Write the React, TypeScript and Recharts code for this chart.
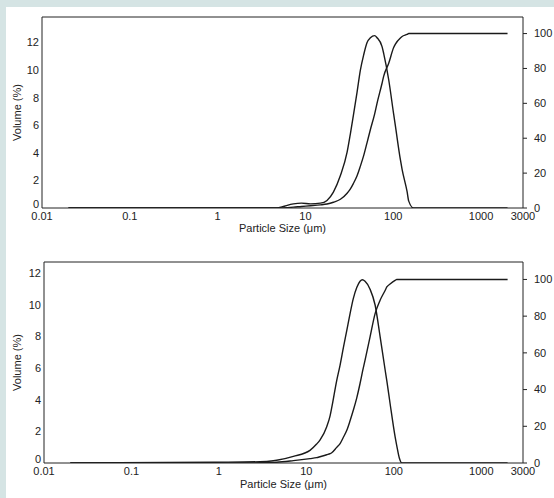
import { LineChart, Line, XAxis, YAxis } from 'recharts'

// particle size (µm) sampled from the upper plot
const sizes1 = [0.02, 1, 4.75, 5.5, 7.3, 9, 11.4, 14.8, 17.6, 20.8, 25, 29.8, 32.5, 35.1, 38.7, 42.2, 46, 50.3, 54.9, 61.4, 65.3, 74.5, 77.8, 88.7, 101, 105.7, 120.5, 126, 143.5, 150, 170, 500, 2000]
const volume1 = [0, 0, 0, 0.1, 0.3, 0.35, 0.3, 0.35, 0.55, 1.15, 2.35, 4.05, 5.4, 6.7, 8.4, 10.0, 11.1, 12.0, 12.35, 12.5, 12.35, 11.7, 11.2, 9.3, 6.8, 5.95, 3.5, 2.8, 1.2, 0.5, 0, 0, 0]
const cumulative1 = [0, 0, 0, 0.1, 0.5, 0.9, 1.3, 1.8, 2.3, 3.3, 5.0, 8.5, 11, 14, 18.5, 24, 30, 37.5, 45, 54, 60, 71.5, 75.6, 83, 92, 94, 97.5, 98.3, 99.5, 100, 100, 100, 100]

// lower plot
const sizes2 = [0.02, 0.9, 2.95, 4.19, 4.58, 7.1, 11.0, 13.1, 14.3, 17.1, 18.7, 19.5, 22.2, 24.3, 26.5, 29.0, 31.6, 34.4, 37.7, 41.1, 43.7, 46.9, 53.5, 61.1, 69.7, 79.5, 83.2, 90.7, 103.5, 108, 115.8, 123.5, 500, 2000]
const volume2 = [0, 0.05, 0.08, 0.14, 0.17, 0.42, 0.8, 1.2, 1.45, 2.3, 3.0, 3.5, 5.2, 6.2, 7.3, 8.4, 9.45, 10.4, 11.1, 11.5, 11.6, 11.5, 11.0, 10.0, 8.0, 5.9, 5.2, 3.75, 1.65, 1.1, 0.3, 0, 0, 0]
const cumulative2 = [0, 0, 0.1, 0.3, 0.4, 1.3, 2.4, 2.9, 3.4, 4.5, 5.1, 5.6, 8.5, 10.6, 14, 17.8, 23, 28.7, 35.5, 43.3, 49.5, 56, 68.7, 81.4, 88.7, 94, 95.9, 97.5, 99.5, 100, 100, 100, 100, 100]

const xTicks = [0.01, 0.1, 1, 10, 100, 1000, 3000]
const volumeTicks = [0, 2, 4, 6, 8, 10, 12]
const cumulativeTicks = [0, 20, 40, 60, 80, 100]

const FONT = '"Liberation Sans", Arial, sans-serif'
const INK = '#222'
const LINE = '#1a1a1a'

interface PanelProps {
  sizes: number[]
  volume: number[]
  cumulative: number[]
  height: number
  top: number
  bottom: number
  left: number
  right: number
  volumeMax: number
  cumulativeMax: number
  labelOffset: number
}

// left tick: the "0" sits a little higher so it clears the 0.01 label
const VolumeTick = ({ x, y, payload }: any) => (
  <text x={x} y={payload.value === 0 ? y - 4 : y} dy="0.355em" textAnchor="end" fontSize={11} fill={INK} fontFamily={FONT}>
    {payload.value}
  </text>
)

function SizePanel({ sizes, volume, cumulative, height, top, bottom, left, right, volumeMax, cumulativeMax, labelOffset }: PanelProps) {
  const data = sizes.map((s, i) => ({ size: s, volume: volume[i], cumulative: cumulative[i] }))
  const tickStyle = { fontSize: 11, fill: INK, fontFamily: FONT }

  return (
    <LineChart width={554} height={height} data={data} margin={{ top: 0, right: 0, bottom: 0, left: 0 }}>
      <XAxis
        xAxisId="top"
        orientation="top"
        type="number"
        scale="log"
        domain={[0.01, 3000]}
        allowDataOverflow
        height={top}
        tick={false}
        tickLine={false}
        axisLine={{ stroke: INK }}
      />
      <XAxis
        xAxisId="x"
        dataKey="size"
        type="number"
        scale="log"
        domain={[0.01, 3000]}
        ticks={xTicks}
        allowDataOverflow
        height={bottom}
        tickLine={false}
        tickSize={0}
        tickMargin={4}
        tick={tickStyle}
        axisLine={{ stroke: INK }}
        label={{ value: 'Particle Size (μm)', position: 'insideBottom', offset: labelOffset, style: { fontSize: 11, fill: INK, fontFamily: FONT } }}
      />
      <YAxis
        yAxisId="left"
        width={left}
        domain={[0, volumeMax]}
        ticks={volumeTicks}
        allowDataOverflow
        tickLine={false}
        tickSize={0}
        tickMargin={3}
        tick={<VolumeTick />}
        axisLine={{ stroke: INK }}
        label={{ value: 'Volume (%)', angle: -90, position: 'insideLeft', offset: 17, textAnchor: 'middle', style: { fontSize: 11, fill: INK, fontFamily: FONT } }}
      />
      <YAxis
        yAxisId="right"
        orientation="right"
        width={right}
        domain={[0, cumulativeMax]}
        ticks={cumulativeTicks}
        allowDataOverflow
        tickSize={4}
        tickMargin={7}
        tickLine={{ stroke: INK }}
        tick={{ ...tickStyle, textAnchor: 'start' }}
        axisLine={{ stroke: INK }}
      />
      <Line xAxisId="x" yAxisId="left" dataKey="volume" type="monotone" stroke={LINE} strokeWidth={1.4} dot={false} isAnimationActive={false} />
      <Line xAxisId="x" yAxisId="right" dataKey="cumulative" type="monotone" stroke={LINE} strokeWidth={1.4} dot={false} isAnimationActive={false} />
    </LineChart>
  )
}

export default function App() {
  return (
    <div style={{ position: 'absolute', left: 0, top: 0, width: 554, height: 498, background: '#d5e4e4', overflow: 'hidden' }}>
      <div style={{ position: 'absolute', left: 6, top: 7, right: 0, bottom: 0, background: '#fff' }} />
      <div style={{ position: 'absolute', left: 0, top: 0 }}>
        <SizePanel
          sizes={sizes1}
          volume={volume1}
          cumulative={cumulative1}
          height={240}
          top={17}
          bottom={32}
          left={42}
          right={31}
          volumeMax={13.85}
          cumulativeMax={109.5}
          labelOffset={8}
        />
      </div>
      <div style={{ position: 'absolute', left: 0, top: 245 }}>
        <SizePanel
          sizes={sizes2}
          volume={volume2}
          cumulative={cumulative2}
          height={253}
          top={17}
          bottom={35}
          left={44}
          right={31}
          volumeMax={12.72}
          cumulativeMax={109.5}
          labelOffset={10}
        />
      </div>
    </div>
  )
}
